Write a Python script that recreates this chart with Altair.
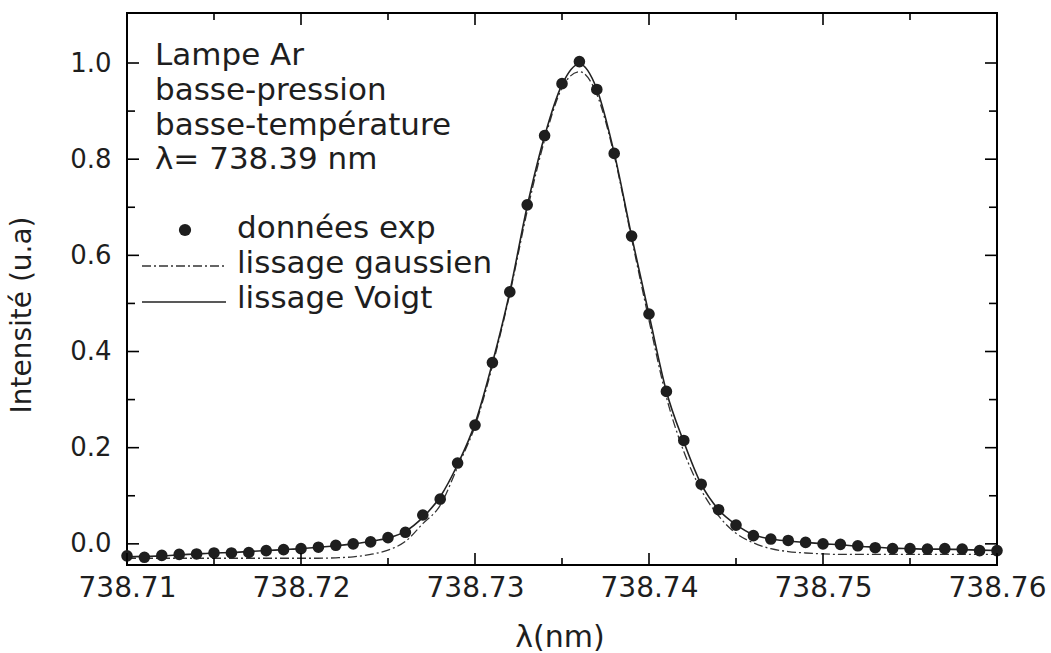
import altair as alt
import pandas as pd

# ---- data ----
wavelength = [738.710, 738.711, 738.712, 738.713, 738.714, 738.715, 738.716, 738.717, 738.718, 738.719,
              738.720, 738.721, 738.722, 738.723, 738.724, 738.725, 738.726, 738.727, 738.728, 738.729,
              738.730, 738.731, 738.732, 738.733, 738.734, 738.735, 738.736, 738.737, 738.738, 738.739,
              738.740, 738.741, 738.742, 738.743, 738.744, 738.745, 738.746, 738.747, 738.748, 738.749,
              738.750, 738.751, 738.752, 738.753, 738.754, 738.755, 738.756, 738.757, 738.758, 738.759,
              738.760]

exp_data = [-0.025, -0.028, -0.024, -0.022, -0.021, -0.019, -0.019, -0.018, -0.014, -0.012,
            -0.010, -0.007, -0.003, 0.000, 0.004, 0.013, 0.024, 0.060, 0.093, 0.168,
            0.247, 0.377, 0.524, 0.705, 0.849, 0.957, 1.003, 0.945, 0.812, 0.640,
            0.478, 0.317, 0.215, 0.124, 0.071, 0.039, 0.017, 0.010, 0.007, 0.003,
            0.000, -0.001, -0.004, -0.008, -0.010, -0.010, -0.011, -0.010, -0.011, -0.014,
            -0.014]

voigt_fit = [-0.027, -0.026, -0.025, -0.023, -0.021, -0.019, -0.018, -0.016, -0.014, -0.012,
             -0.010, -0.007, -0.004, 0.000, 0.005, 0.012, 0.026, 0.055, 0.098, 0.165,
             0.250, 0.376, 0.524, 0.702, 0.848, 0.955, 0.998, 0.946, 0.813, 0.640,
             0.477, 0.317, 0.212, 0.124, 0.071, 0.040, 0.019, 0.010, 0.006, 0.003,
             0.000, -0.002, -0.005, -0.007, -0.009, -0.010, -0.011, -0.011, -0.012, -0.013,
             -0.014]

gauss_fit = [-0.030, -0.030, -0.030, -0.030, -0.030, -0.030, -0.030, -0.030, -0.030, -0.030,
             -0.030, -0.030, -0.029, -0.027, -0.022, -0.013, 0.005, 0.042, 0.080, 0.160,
             0.245, 0.370, 0.520, 0.692, 0.840, 0.948, 0.982, 0.935, 0.808, 0.635,
             0.465, 0.305, 0.192, 0.112, 0.058, 0.022, 0.002, -0.010, -0.016, -0.019,
             -0.021, -0.022, -0.022, -0.022, -0.022, -0.022, -0.022, -0.022, -0.022, -0.022,
             -0.022]

x_major_ticks = [738.71, 738.72, 738.73, 738.74, 738.75, 738.76]
x_minor_ticks = [738.715, 738.725, 738.735, 738.745, 738.755]
y_major_ticks = [0.0, 0.2, 0.4, 0.6, 0.8, 1.0]
y_minor_ticks = [0.1, 0.3, 0.5, 0.7, 0.9]

annotation_lines = ["Lampe Ar", "basse-pression", "basse-température", "λ= 738.39 nm"]
legend_labels = ["données exp", "lissage gaussien", "lissage Voigt"]

# ---- chart ----
W, H = 870, 552
FONT = "DejaVu Sans"
INK = "#1e1e1e"

xscale = alt.Scale(domain=[738.71, 738.76], nice=False, zero=False)
yscale = alt.Scale(domain=[-0.044, 1.104], nice=False, zero=False)

xaxis = alt.Axis(values=x_major_ticks, format=".2f", title=None, grid=False, ticks=False,
                 domain=False, labelFontSize=28, labelFont=FONT, labelColor=INK,
                 labelPadding=9, labelFlush=False, labelOverlap=False)
yaxis = alt.Axis(values=y_major_ticks, format=".1f", title=None, grid=False, ticks=False,
                 domain=False, labelFontSize=26, labelFont=FONT, labelColor=INK,
                 labelPadding=16, labelFlush=False, labelOverlap=False)

df = pd.DataFrame({"wl": wavelength, "exp": exp_data, "voigt": voigt_fit, "gauss": gauss_fit})

points = alt.Chart(df).mark_point(filled=True, size=135, color=INK, opacity=1).encode(
    x=alt.X("wl:Q", scale=xscale, axis=xaxis),
    y=alt.Y("exp:Q", scale=yscale, axis=yaxis),
)

voigt = alt.Chart(df).mark_line(color="#222222", strokeWidth=1.6, interpolate="monotone").encode(
    x=alt.X("wl:Q", scale=xscale, axis=xaxis),
    y=alt.Y("voigt:Q", scale=yscale, axis=yaxis),
)

gauss = alt.Chart(df).mark_line(color="#333333", strokeWidth=1.3, strokeDash=[9, 3, 2, 3],
                                interpolate="monotone").encode(
    x=alt.X("wl:Q", scale=xscale, axis=xaxis),
    y=alt.Y("gauss:Q", scale=yscale, axis=yaxis),
)

def xticks(vals, length):
    d = pd.DataFrame({"v": vals})
    bottom = alt.Chart(d).mark_rule(color="black", strokeWidth=1.6).encode(
        x=alt.X("v:Q", scale=xscale, axis=xaxis), y=alt.value(H), y2=alt.value(H - length))
    top = alt.Chart(d).mark_rule(color="black", strokeWidth=1.6).encode(
        x=alt.X("v:Q", scale=xscale, axis=xaxis), y=alt.value(0), y2=alt.value(length))
    return [bottom, top]

def yticks(vals, length):
    d = pd.DataFrame({"v": vals})
    left = alt.Chart(d).mark_rule(color="black", strokeWidth=1.6).encode(
        y=alt.Y("v:Q", scale=yscale, axis=yaxis), x=alt.value(0), x2=alt.value(length))
    right = alt.Chart(d).mark_rule(color="black", strokeWidth=1.6).encode(
        y=alt.Y("v:Q", scale=yscale, axis=yaxis), x=alt.value(W), x2=alt.value(W - length))
    return [left, right]

tick_layers = xticks(x_major_ticks, 12) + xticks(x_minor_ticks, 7) + yticks(y_major_ticks, 12) + yticks(y_minor_ticks, 8)

one = pd.DataFrame({"a": [0]})

def label(text, x, y, size=31, angle=0, align="left"):
    return alt.Chart(one).mark_text(font=FONT, fontSize=size, color=INK, align=align,
                                    baseline="alphabetic", angle=angle).encode(
        x=alt.value(x), y=alt.value(y), text=alt.value(text))

ann_y = [52, 87, 122, 156]
annotations = [label(t, 28, y) for t, y in zip(annotation_lines, ann_y)]

leg_y = [225, 260, 295]
legend_texts = [label(t, 110, y) for t, y in zip(legend_labels, leg_y)]

legend_dot = alt.Chart(one).mark_point(filled=True, size=150, color=INK, opacity=1).encode(
    x=alt.value(58), y=alt.value(217))
legend_gauss = alt.Chart(one).mark_rule(color="#333333", strokeWidth=1.3, strokeDash=[9, 3, 2, 3]).encode(
    x=alt.value(15), x2=alt.value(99), y=alt.value(253))
legend_voigt = alt.Chart(one).mark_rule(color="#222222", strokeWidth=1.6).encode(
    x=alt.value(15), x2=alt.value(99), y=alt.value(289))

x_title = label("λ(nm)", 433, 634, size=30, align="center")
y_title = label("Intensité (u.a)", -96, 302, size=28, angle=270, align="center")

chart = alt.layer(
    gauss, voigt, points, *tick_layers, *annotations, *legend_texts,
    legend_dot, legend_gauss, legend_voigt, x_title, y_title
).properties(
    width=W, height=H,
    autosize=alt.AutoSizeParams(type="none"),
    padding={"left": 127, "top": 13, "right": 54, "bottom": 88},
    background="white",
).configure_view(stroke="black", strokeWidth=2)

chart.save("out.html", embed_options={"renderer": "svg", "actions": False})
